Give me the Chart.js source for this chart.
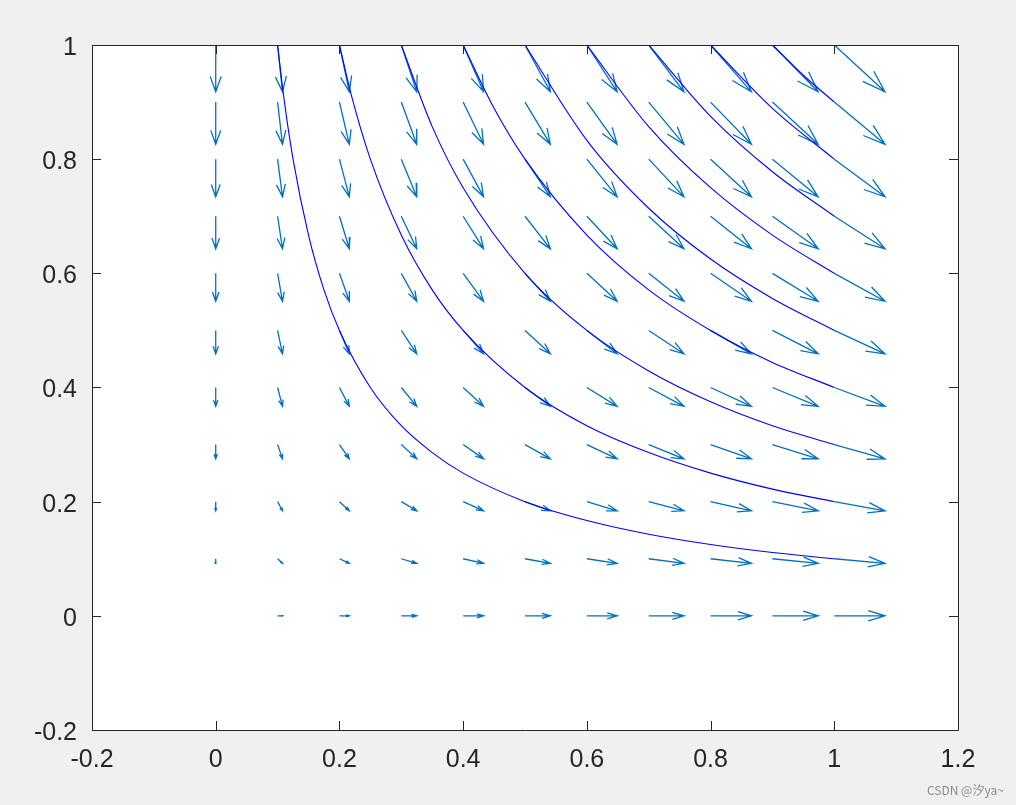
<!DOCTYPE html>
<html>
<head>
<meta charset="utf-8">
<script src="https://cdn.jsdelivr.net/npm/chart.js@4"></script>
<style>
    html, body { margin: 0; padding: 0; background: #f0f0f0; }
    #wrap { position: relative; width: 1016px; height: 805px; }
    #marca {
        position: absolute; left: 927px; top: 781px;
        font: 12px "Noto Sans CJK SC", "Liberation Sans", sans-serif;
        color: #8c8c8c; white-space: nowrap;
    }
</style>
</head>
<body>
<div id="wrap">
    <canvas id="grafico" width="1016" height="805"></canvas>
    <div id="marca">CSDN @汐ya~</div>
</div>
<script>
// ========== dados ==========

// malha do quiver
const gradeX = [0, 0.1, 0.2, 0.3, 0.4, 0.5, 0.6, 0.7, 0.8, 0.9, 1.0];
const gradeY = [0, 0.1, 0.2, 0.3, 0.4, 0.5, 0.6, 0.7, 0.8, 0.9, 1.0];

// componente horizontal das setas (por coluna) e vertical (por linha)
const setaU = [0, 0.008, 0.016, 0.025, 0.033, 0.041, 0.049, 0.057, 0.066, 0.074, 0.082];
const setaV = [0, -0.008, -0.016, -0.025, -0.033, -0.041, -0.049, -0.057, -0.066, -0.074, -0.082];

// linhas de corrente (x, y)
const corrente1 = [[0.1, 1], [0.11, 0.909], [0.125, 0.8], [0.15, 0.667], [0.175, 0.571], [0.2, 0.5], [0.25, 0.4], [0.3, 0.333], [0.35, 0.286], [0.4, 0.25], [0.5, 0.2], [0.6, 0.167], [0.7, 0.143], [0.8, 0.125], [0.9, 0.111], [1, 0.1]];
const corrente2 = [[0.2, 1], [0.22, 0.909], [0.25, 0.8], [0.3, 0.667], [0.35, 0.571], [0.4, 0.5], [0.5, 0.4], [0.6, 0.333], [0.7, 0.286], [0.8, 0.25], [0.9, 0.222], [1, 0.2]];
const corrente3 = [[0.3, 1], [0.35, 0.857], [0.4, 0.75], [0.5, 0.6], [0.6, 0.5], [0.7, 0.429], [0.8, 0.375], [0.9, 0.333], [1, 0.3]];
const corrente4 = [[0.4, 1], [0.45, 0.889], [0.5, 0.8], [0.6, 0.667], [0.7, 0.571], [0.8, 0.5], [0.9, 0.444], [1, 0.4]];
const corrente5 = [[0.5, 1], [0.6, 0.833], [0.7, 0.714], [0.8, 0.625], [0.9, 0.556], [1, 0.5]];
const corrente6 = [[0.6, 1], [0.7, 0.857], [0.8, 0.75], [0.9, 0.667], [1, 0.6]];
const corrente7 = [[0.7, 1], [0.8, 0.875], [0.9, 0.778], [1, 0.7]];
const corrente8 = [[0.8, 1], [0.9, 0.889], [1, 0.8]];
const corrente9 = [[0.9, 1], [0.95, 0.947], [1, 0.9]];

// ticks
const ticksX = [-0.2, 0, 0.2, 0.4, 0.6, 0.8, 1, 1.2];
const ticksY = [-0.2, 0, 0.2, 0.4, 0.6, 0.8, 1];

// ========== montagem ==========

const COR_SETA = '#0072BD';
const COR_CORRENTE = '#0000FF';
const COR_EIXO = '#262626';

// segmentos das setas (haste + ponta), separados por nulos
function montarSetas() {
    const pts = [];
    const alfa = 0.33, beta = 0.33;
    gradeX.forEach((x, i) => {
        gradeY.forEach((y, j) => {
            const u = setaU[i], v = setaV[j];
            if (u === 0 && v === 0) return;
            const hx = x + u, hy = y + v;
            pts.push({x: x, y: y}, {x: hx, y: hy}, {x: null, y: null});
            pts.push({x: hx - alfa * (u + beta * v), y: hy - alfa * (v - beta * u)});
            pts.push({x: hx, y: hy});
            pts.push({x: hx - alfa * (u - beta * v), y: hy - alfa * (v + beta * u)});
            pts.push({x: null, y: null});
        });
    });
    return pts;
}

const correntes = [corrente1, corrente2, corrente3, corrente4, corrente5, corrente6, corrente7, corrente8, corrente9];

const datasets = correntes.map(c => ({
    data: c.map(p => ({x: p[0], y: p[1]})),
    showLine: true,
    borderColor: COR_CORRENTE,
    borderWidth: 1.1,
    pointRadius: 0,
    cubicInterpolationMode: 'monotone',
    fill: false
}));

datasets.push({
    data: montarSetas(),
    showLine: true,
    spanGaps: false,
    borderColor: COR_SETA,
    borderWidth: 1.3,
    pointRadius: 0,
    fill: false
});

// fundo branco + caixa com ticks para dentro
const caixaPlugin = {
    id: 'caixa',
    beforeDraw(chart) {
        const a = chart.chartArea;
        const ctx = chart.ctx;
        ctx.save();
        ctx.fillStyle = '#ffffff';
        ctx.fillRect(a.left, a.top, a.right - a.left, a.bottom - a.top);
        ctx.restore();
    },
    afterDraw(chart) {
        const a = chart.chartArea;
        const ctx = chart.ctx;
        const sx = chart.scales.x, sy = chart.scales.y;
        const t = 9;
        ctx.save();
        ctx.strokeStyle = COR_EIXO;
        ctx.lineWidth = 1;
        ctx.beginPath();
        ctx.rect(Math.round(a.left) + 0.5, Math.round(a.top) + 0.5,
                 Math.round(a.right - a.left), Math.round(a.bottom - a.top));
        ticksX.forEach(v => {
            const px = Math.round(sx.getPixelForValue(v)) + 0.5;
            ctx.moveTo(px, a.bottom); ctx.lineTo(px, a.bottom - t);
            ctx.moveTo(px, a.top); ctx.lineTo(px, a.top + t);
        });
        ticksY.forEach(v => {
            const py = Math.round(sy.getPixelForValue(v)) + 0.5;
            ctx.moveTo(a.left, py); ctx.lineTo(a.left + t, py);
            ctx.moveTo(a.right, py); ctx.lineTo(a.right - t, py);
        });
        ctx.stroke();
        ctx.restore();
    }
};

const fonteTicks = { family: '"Liberation Sans", Arial, sans-serif', size: 25 };
const formatar = v => String(Number(v.toFixed(1)));

new Chart(document.getElementById('grafico').getContext('2d'), {
    type: 'scatter',
    data: { datasets: datasets },
    options: {
        responsive: false,
        animation: false,
        layout: { padding: { top: 45, right: 58, left: 0, bottom: 0 } },
        plugins: {
            legend: { display: false },
            tooltip: { enabled: false }
        },
        scales: {
            x: {
                type: 'linear',
                min: -0.2,
                max: 1.2,
                afterFit: s => { s.height = 75; },
                afterBuildTicks: s => { s.ticks = ticksX.map(v => ({value: v})); },
                ticks: { color: COR_EIXO, font: fonteTicks, padding: 15, maxRotation: 0, callback: formatar },
                grid: { display: false, drawTicks: false },
                border: { display: false }
            },
            y: {
                type: 'linear',
                min: -0.2,
                max: 1,
                afterFit: s => { s.width = 92; },
                afterBuildTicks: s => { s.ticks = ticksY.map(v => ({value: v})); },
                ticks: { color: COR_EIXO, font: fonteTicks, padding: 15, labelOffset: 3, callback: formatar },
                grid: { display: false, drawTicks: false },
                border: { display: false }
            }
        }
    },
    plugins: [caixaPlugin]
});
</script>
</body>
</html>
